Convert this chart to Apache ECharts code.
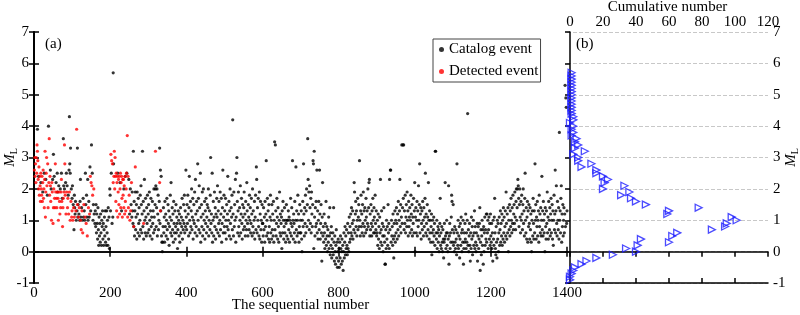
<!DOCTYPE html>
<html>
<head>
<meta charset="utf-8">
<script src="https://cdn.jsdelivr.net/npm/echarts@6/dist/echarts.min.js"></script>
<style>
  html, body { margin: 0; padding: 0; background: #fff; }
  #main { width: 800px; height: 315px; }
</style>
</head>
<body>
<div id="main"></div>
<script>
// detected events (red): [sequential number, ML]
var detected = [
  [1,2.6],[2,3.0],[3,2.4],[4,2.8],[5,2.2],[6,3.0],[7,2.5],[8,3.4],[9,3.2],[10,2.9],[11,2.3],[12,2.0],[13,2.7],[14,1.8],
  [15,2.4],[16,2.1],[17,1.6],[18,2.5],[19,2.0],[20,1.8],[21,2.4],[22,1.6],[23,2.2],[24,2.6],[25,1.7],[26,2.0],[27,1.4],
  [28,2.3],[29,3.2],[30,1.1],[31,1.9],[32,2.5],[33,3.0],[34,2.1],[36,2.8],[37,1.4],[39,2.2],[40,3.6],[41,1.8],[42,2.4],
  [43,2.1],[44,1.6],[46,1.0],[47,2.2],[48,1.9],[50,0.9],[51,1.4],[52,2.0],[54,1.7],[55,1.4],[56,2.8],[57,1.9],[59,1.7],
  [60,1.4],[61,1.9],[63,1.7],[64,1.0],[66,1.9],[67,1.6],[68,1.2],[70,1.4],[71,1.9],[72,2.3],[73,1.6],[75,0.8],[76,1.4],
  [77,1.7],[79,1.9],[80,3.4],[81,2.8],[82,1.8],[84,1.2],[86,1.9],[88,1.4],[89,1.7],[91,1.2],[93,1.9],[95,1.0],[97,1.6],
  [99,1.1],[100,1.3],[102,1.0],[104,1.4],[106,1.1],[110,1.3],[112,3.9],[114,1.5],[117,1.1],[119,1.4],[122,1.0],[124,0.7],
  [126,1.3],[128,0.6],[131,1.5],[134,1.1],[137,0.9],[140,0.5],[143,1.4],[146,1.2],[148,2.4],[150,2.2],[152,2.1],[154,1.8],
  [157,2.0],[202,3.1],[204,2.9],[206,2.8],[208,2.2],[210,2.4],[211,3.2],[212,2.0],[213,3.0],[214,2.4],[215,1.6],[216,2.5],
  [217,1.3],[218,2.2],[219,2.4],[220,1.1],[221,1.9],[222,2.3],[223,1.5],[224,2.4],[225,1.2],[226,2.0],[227,2.5],[228,1.4],
  [229,2.2],[230,2.4],[231,1.7],[232,1.1],[233,2.3],[234,1.8],[235,2.3],[236,1.4],[237,2.1],[238,1.2],[239,2.4],[240,1.6],
  [241,1.3],[242,2.0],[243,2.5],[245,3.7],[246,1.1],[247,2.4],[248,1.4],[250,1.8],[252,1.0],[254,1.3],[256,2.2],[262,0.8],
  [266,2.7],[288,0.9],[319,3.2],[330,2.2],[332,1.3]
];

// catalog events (black) among the first 260: [sequential number, ML]
var catalogEarly = [
  [9,3.9],[12,2.4],[18,2.2],[23,1.9],[27,2.5],[31,2.3],[35,1.8],[38,4.0],[43,2.6],[45,2.0],[49,2.3],[51,3.1],[53,2.4],
  [58,2.2],[61,2.5],[62,1.9],[65,2.1],[69,2.0],[72,2.5],[74,1.7],[77,3.6],[78,2.1],[80,2.0],[83,2.2],[85,2.5],[87,2.1],
  [90,1.8],[92,2.6],[93,4.3],[94,2.8],[95,2.5],[96,3.3],[98,2.0],[100,1.7],[101,2.1],[103,1.5],[105,0.7],[106,1.8],
  [107,1.4],[108,1.2],[109,1.6],[111,1.0],[113,1.3],[114,3.3],[115,1.1],[116,1.5],[118,1.2],[120,1.0],[121,1.6],[122,2.3],
  [123,1.1],[125,1.4],[127,1.0],[129,1.7],[130,1.1],[132,1.3],[133,1.0],[135,2.5],[136,1.5],[138,1.8],[139,1.1],[141,2.3],
  [142,1.0],[144,1.6],[145,1.1],[147,2.7],[149,1.3],[151,3.4],[153,2.5],[155,1.0],[156,1.5],[158,1.2],[160,0.9],[161,1.3],
  [162,0.8],[163,1.5],[164,0.6],[165,1.2],[166,0.9],[167,0.4],[168,1.4],[169,0.7],[170,0.2],[171,1.1],[172,0.5],[173,0.9],
  [174,0.3],[175,1.2],[176,0.6],[177,0.2],[178,1.0],[179,0.8],[180,1.3],[181,0.4],[182,0.9],[183,0.2],[184,0.7],[185,1.1],
  [186,0.5],[187,1.3],[188,0.3],[189,0.8],[190,0.2],[191,1.3],[192,0.6],[193,1.0],[194,0.2],[195,1.4],[196,0.4],[197,1.1],
  [198,0.1],[199,2.0],[200,1.8],[201,1.3],[203,2.5],[205,0.9],[207,1.1],[208,5.7],[209,2.8],[220,2.5],[226,2.2],[230,1.3],
  [236,2.0],[240,2.4],[244,2.5],[249,2.3],[251,1.2],[253,2.0],[255,1.5],[257,1.1],[258,1.9],[259,1.3],[260,0.9]
];

// catalog ML in sequence, starting at number 261
var cat261 = [
  3.2,0.8,1.6,0.5,1.3,1.9,0.7,1.1,1.5,0.4, 1.9,1.2,0.6,1.7,0.9,1.4,0.5,1.0,1.8,0.7,
  2.1,1.5,0.6,1.2,3.2,0.8,1.6,0.4,1.3,2.3, 1.0,0.6,1.7,1.1,0.5,1.4,0.9,1.8,0.6,1.2
];
var cat301 = [
  1.5,0.7,1.9,1.0,0.5,1.3,1.7,0.8,1.1,0.4, 1.6,0.9,1.3,0.6,2.0,1.1,0.7,1.5,2.0,2.1,
  0.8,1.4,2.0,0.5,1.2,1.8,0.7,1.0,1.6,3.3, 0.9,2.6,1.3,2.4,0.5,0.3,0.0,0.3,0.8,1.4,
  0.6,1.1,0.3,1.6,0.8,1.2,0.5,1.0,1.7,0.7, 0.4,1.5,0.9,1.3,0.2,0.8,1.1,1.8,0.6,2.2,
  1.0,0.5,1.4,0.7,1.2,0.3,1.6,0.9,0.6,1.3, 0.4,0.8,1.5,0.6,1.1,0.9,0.1,0.7,1.3,1.0,
  0.5,1.2,0.3,0.9,1.4,0.6,1.1,0.8,1.7,0.4, 1.0,0.7,1.5,0.9,1.8,0.6,1.3,0.8,2.6,1.1
];
var cat401 = [
  0.7,1.5,0.9,1.8,1.2,0.5,1.4,2.4,1.0,0.6, 1.6,0.8,1.3,2.0,0.7,1.1,1.7,0.4,1.0,1.5,
  0.9,1.9,0.6,2.3,1.2,0.8,1.6,0.5,1.3,2.8, 1.0,1.7,0.7,2.1,1.4,0.6,2.5,0.3,1.1,1.5,
  0.8,1.9,0.5,1.2,2.0,0.7,1.0,1.6,0.4,1.3, 0.9,1.7,0.6,1.1,1.5,0.8,1.4,2.0,0.5,1.0,
  1.3,0.7,1.8,3.0,0.9,1.2,0.6,2.5,0.3,1.0, 1.6,0.5,1.1,1.9,0.8,1.4,0.4,1.2,0.7,1.7,
  1.1,2.1,0.6,1.3,0.9,1.6,0.5,1.0,1.9,0.7, 1.2,1.7,0.3,0.9,1.4,2.6,0.6,1.1,1.8,0.8
];
var cat501 = [
  1.3,0.6,1.7,1.0,0.4,1.5,0.8,1.2,2.4,0.7, 1.0,1.6,0.5,1.3,2.0,0.9,0.4,1.4,1.1,1.8,
  0.7,4.2,1.2,0.5,1.9,0.8,1.5,1.0,2.3,0.3, 1.1,2.5,3.0,1.6,0.6,1.3,1.9,0.8,0.5,1.4,
  1.0,2.1,0.6,1.2,1.7,0.9,0.4,1.5,1.1,0.7, 1.4,1.9,0.8,1.2,0.5,1.6,1.0,0.7,2.2,1.3,
  0.9,0.5,1.5,1.1,0.7,1.8,1.0,1.4,0.6,0.9, 1.7,1.2,0.5,2.0,0.8,1.3,0.6,1.0,1.6,0.4,
  1.1,1.8,0.7,2.7,2.3,0.6,1.4,1.0,1.7,0.8, 0.5,1.9,0.4,1.2,1.6,0.7,1.0,0.3,1.5,0.9
];
var cat601 = [
  0.9,0.5,1.4,0.7,1.1,0.3,1.6,0.8,1.2,2.9, 0.5,1.0,1.7,0.6,1.3,0.4,1.5,0.8,0.3,1.1,
  1.8,0.6,1.0,0.4,1.5,0.7,1.2,0.5,1.6,0.3, 1.0,3.5,0.7,3.4,1.3,0.5,0.9,1.7,1.1,0.4,
  1.4,0.8,0.3,1.0,1.9,0.6,1.2,0.5,0.9,1.1, 0.1,1.3,0.6,1.6,1.0,0.4,0.8,1.4,0.6,1.0,
  0.3,0.9,1.5,0.5,1.0,1.0,0.4,1.3,0.7,1.1, 0.3,1.0,0.6,1.7,0.9,0.5,1.4,0.8,2.9,1.0,
  0.4,1.2,0.9,0.6,1.6,0.3,1.0,2.7,0.7,1.3, 0.5,1.0,1.8,0.6,1.2,0.3,0.8,1.5,0.6,1.0
];
var cat701 = [
  0.6,1.3,0.4,0.0,1.0,1.6,0.8,2.8,1.2,0.5, 1.4,0.9,1.8,0.6,1.3,2.0,0.8,1.5,3.6,2.3,
  1.0,1.9,0.7,2.1,1.4,0.9,1.7,0.6,1.9,1.2, 0.8,1.5,2.9,2.8,0.1,3.2,1.1,0.5,1.4,0.8,
  1.6,0.9,2.6,0.6,1.3,0.4,1.0,1.6,0.7,2.6, 1.2,0.4,0.9,1.5,0.6,-0.3,1.1,2.2,0.5,0.8,
  0.3,1.2,0.6,0.1,0.9,0.4,1.6,0.2,0.8,0.5, 0.0,0.7,0.3,1.1,0.1,0.5,1.4,-0.1,0.6,0.2,
  0.8,-0.2,0.4,0.1,0.6,-0.1,1.4,0.3,-0.3,0.5, 0.0,-0.4,0.2,0.7,-0.2,0.3,-0.5,0.0,0.4,-0.3
];
var cat801 = [
  0.1,-0.5,0.3,-0.2,0.5,0.1,-0.4,0.0,0.4,-0.3, 0.2,-0.6,0.0,0.6,-0.2,0.3,0.8,-0.1,0.5,0.1,
  0.7,0.2,-0.1,0.9,0.1,0.6,0.0,1.1,0.3,0.8, 0.4,1.2,0.6,1.4,0.5,0.9,1.3,0.4,1.0,0.7,
  2.2,1.9,0.6,1.2,1.6,0.8,1.3,0.5,1.0,1.7, 0.7,1.1,1.5,0.8,2.9,1.0,0.5,1.3,1.8,0.8,
  1.2,0.6,1.5,0.9,1.9,0.5,1.3,0.8,1.4,1.0, 0.6,1.7,1.1,0.7,1.3,0.9,2.0,0.8,1.4,2.2,
  2.3,0.5,1.2,0.7,1.5,0.9,0.5,1.3,0.8,1.7, 1.0,0.6,1.4,1.1,0.6,1.8,0.9,0.7,1.3,0.5
];
var cat901 = [
  0.6,1.0,0.2,1.2,0.4,0.8,0.1,1.1,0.6,2.3, 0.3,0.7,1.3,0.2,0.9,0.5,0.0,0.8,1.4,0.5,
  0.3,-0.4,-0.4,0.7,0.1,1.0,0.4,0.8,0.2,1.5, 0.6,0.9,0.1,2.3,0.7,2.6,2.6,0.3,1.0,0.5,
  0.8,0.2,1.2,0.4,-0.2,0.9,0.5,1.3,0.3,1.0, 0.6,1.4,0.9,0.4,1.2,0.7,1.6,0.5,1.0,1.3,
  2.3,0.8,1.5,0.6,1.1,3.4,0.9,1.4,3.4,1.7, 3.4,0.7,1.3,0.9,1.8,0.6,1.1,1.5,0.8,1.9,
  1.0,1.3,0.5,1.6,0.8,1.1,1.4,0.6,1.0,1.8, 1.2,0.7,1.5,0.5,1.1,0.9,1.7,0.6,1.3,2.2
];
var cat1001 = [
  0.0,1.1,1.4,0.6,1.0,1.6,0.5,1.3,0.8,2.1, 1.0,1.5,2.8,0.6,1.2,1.4,0.4,0.9,1.3,0.7,
  1.6,1.0,0.5,1.4,0.8,1.1,1.7,2.5,0.6,1.2, 0.9,0.5,1.5,1.1,0.7,2.2,1.0,0.4,1.3,0.6,
  1.0,0.3,0.8,1.2,-0.1,0.6,1.0,0.3,0.7,1.1, 0.5,0.9,0.2,3.2,3.2,0.6,0.4,1.0,0.1,0.6,
  0.8,0.3,0.7,0.0,0.5,0.9,1.7,0.2,0.6,0.1, 0.8,0.3,0.0,0.7,0.4,-0.2,0.3,0.9,0.4,2.2,
  0.5,0.1,0.6,1.0,0.2,0.6,0.0,0.4,2.1,-0.4, 0.5,0.9,0.1,0.6,0.3,1.1,1.8,1.6,0.7,0.3
];
var cat1101 = [
  1.5,0.2,0.6,0.0,0.8,0.3,0.1,0.7,0.4,-0.1, 2.8,0.6,0.2,1.0,0.1,0.5,0.8,-0.2,0.4,0.9,
  0.2,1.1,0.6,0.0,0.7,0.3,1.0,-0.4,0.1,0.6, 0.3,0.9,0.4,1.2,0.1,0.6,0.3,1.0,4.4,0.2,
  0.7,0.0,0.5,0.9,0.2,-0.3,0.6,0.1,1.1,0.4, 0.8,-0.1,0.5,1.0,0.2,0.6,1.3,0.1,0.8,0.3,
  0.0,0.6,0.2,0.9,-0.3,0.5,0.8,0.1,0.4,0.9, 1.4,-0.6,0.3,0.7,-0.1,0.5,1.0,0.2,0.7,-0.4,
  0.8,0.0,0.6,1.1,0.2,0.7,0.4,1.2,0.3,1.2, 0.6,1.0,0.1,0.7,1.1,0.4,0.9,0.2,1.2,0.5
];
var cat1201 = [
  0.3,0.9,0.1,0.6,-0.3,1.0,0.4,0.2,1.1,1.7, 0.6,0.1,-0.1,0.8,0.3,-0.2,1.0,0.4,0.9,0.0,
  0.6,1.1,0.2,0.7,1.3,0.3,0.9,0.5,1.2,0.2, 1.0,0.4,1.4,0.6,1.1,0.3,0.8,1.3,0.5,1.9,
  0.9,0.4,1.2,0.6,1.4,0.0,1.0,0.7,1.5,0.5, 1.3,0.8,1.7,1.0,0.6,1.4,0.9,1.8,0.7,1.2,
  1.5,0.9,1.9,1.1,0.7,1.6,2.0,1.0,1.4,2.0, 2.3,2.1,1.7,0.8,1.5,2.0,1.1,0.6,1.6,1.0,
  1.8,1.2,0.7,1.5,2.0,0.9,1.3,0.5,1.7,2.5, 1.0,0.6,1.4,0.4,1.1,1.6,0.3,1.3,0.8,1.5
];
var cat1301 = [
  0.9,0.4,1.4,0.7,1.2,0.3,0.0,1.0,1.3,0.5, 1.7,0.9,0.4,1.3,0.6,2.8,1.0,1.5,0.4,1.1,
  0.8,1.6,0.5,1.0,1.3,0.3,1.8,0.8,1.2,0.6, 1.4,0.5,1.0,2.4,0.7,1.3,0.5,1.6,1.0,0.6,
  1.2,0.0,1.4,0.8,0.4,1.3,0.9,1.9,0.6,1.1, 0.4,1.6,1.0,0.7,1.4,0.5,1.2,1.7,0.6,1.0,
  1.5,0.4,1.3,0.2,1.0,1.8,0.7,1.2,2.6,0.6, 1.3,2.1,0.9,0.5,1.6,1.0,0.7,1.4,0.4,3.8,
  1.0,1.3,0.6,1.7,2.1,0.3,1.2,0.8,1.5,0.5, 1.0,1.4,0.6,1.2,5.3,0.8,4.9,4.6,0.9,1.3
];

// panel (b): ML bins and cumulative number
var mlLevels = [
  -0.9,-0.8,-0.7,-0.6,-0.5,-0.4,-0.3,-0.2,-0.1,0.0,0.1,0.2,0.3,0.4,0.5,0.6,0.7,0.8,0.9,1.0,
  1.1,1.2,1.3,1.4,1.5,1.6,1.7,1.8,1.9,2.0,2.1,2.2,2.3,2.4,2.5,2.6,2.7,2.8,2.9,3.0,
  3.1,3.2,3.3,3.4,3.5,3.6,3.7,3.8,3.9,4.0,4.1,4.2,4.3,4.4,4.5,4.6,4.7,4.8,4.9,5.0,
  5.1,5.2,5.3,5.4,5.5,5.6,5.7
];
var cumNumber = [
  0,0,1,2,3,7,10,16,26,40,34,41,60,43,62,65,86,94,95,101,
  98,59,60,78,46,40,37,31,36,20,33,21,23,20,16,16,7,13,5,5,
  2,9,3,5,3,4,1,2,1,2,0,2,2,1,1,1,1,1,1,1,
  1,1,1,1,1,1,1
];

var font = 'Liberation Serif';
var catalogSeq = cat261.concat(cat301, cat401, cat501, cat601, cat701, cat801, cat901,
                               cat1001, cat1101, cat1201, cat1301);
var catalogData = catalogEarly.slice();
for (var i = 0; i < catalogSeq.length; i++) {
    catalogData.push([261 + i, catalogSeq[i]]);
}
var cumData = [];
for (var j = 0; j < mlLevels.length; j++) {
    cumData.push([cumNumber[j], mlLevels[j]]);
}

var lineStyle = {color: '#000', width: 1.5};
var labelStyle = {fontFamily: font, fontSize: 15, color: '#000'};
var plain = function (v) { return String(v); };
var mlName = {
    rich: {
        i: {fontFamily: font, fontSize: 15, fontStyle: 'italic', color: '#000'},
        s: {fontFamily: font, fontSize: 10, color: '#000', padding: [7, 0, 0, 0]}
    }
};

var myChart = echarts.init(document.getElementById('main'));
var option = {
    animation: false,
    backgroundColor: '#fff',
    grid: [
        {left: 34, top: 32, width: 533, height: 251, outerBoundsMode: 'none', containLabel: false},
        {left: 567, top: 32, width: 201, height: 251, outerBoundsMode: 'none', containLabel: false}
    ],
    legend: {
        data: ['Catalog event', 'Detected event'],
        orient: 'vertical',
        left: 433,
        top: 39,
        padding: [3, 2, 3, 6],
        itemGap: 7,
        itemWidth: 5,
        itemHeight: 5,
        icon: 'circle',
        borderColor: '#444',
        borderWidth: 1,
        textStyle: {fontFamily: font, fontSize: 15, color: '#000'}
    },
    graphic: [
        {type: 'text', left: 45, top: 37, style: {text: '(a)', font: '15px "Liberation Serif"', fill: '#000'}},
        {type: 'text', left: 576, top: 37, style: {text: '(b)', font: '15px "Liberation Serif"', fill: '#000'}}
    ],
    xAxis: [
        {
            gridIndex: 0, type: 'value', position: 'bottom',
            min: 0, max: 1400, interval: 200,
            name: 'The sequential number', nameLocation: 'middle', nameGap: 15, nameMoveOverlap: false,
            nameTextStyle: labelStyle,
            axisLine: {lineStyle: lineStyle},
            axisTick: {inside: true, length: 5, lineStyle: lineStyle},
            axisLabel: {margin: 3, fontFamily: font, fontSize: 15, color: '#000', formatter: plain},
            splitLine: {show: false}
        },
        {
            gridIndex: 0, type: 'value', position: 'top',
            min: 0, max: 1400, interval: 200,
            axisLine: {lineStyle: lineStyle},
            axisTick: {inside: true, length: 5, lineStyle: lineStyle},
            axisLabel: {show: false},
            splitLine: {show: false}
        },
        {
            gridIndex: 1, type: 'value', position: 'top',
            min: -1.8, max: 120,
            name: 'Cumulative number', nameLocation: 'middle', nameGap: 17, nameMoveOverlap: false,
            nameTextStyle: labelStyle,
            axisLine: {lineStyle: lineStyle},
            axisTick: {inside: true, length: 5, lineStyle: lineStyle,
                       customValues: [0, 20, 40, 60, 80, 100, 120]},
            axisLabel: {margin: 2, fontFamily: font, fontSize: 15, color: '#000', formatter: plain,
                        customValues: [0, 20, 40, 60, 80, 100, 120]},
            splitLine: {show: false}
        },
        {
            gridIndex: 1, type: 'value', position: 'bottom',
            min: -1.8, max: 120,
            axisLine: {lineStyle: lineStyle},
            axisTick: {inside: true, length: 5, lineStyle: lineStyle,
                       customValues: [20, 40, 60, 80, 100]},
            axisLabel: {show: false},
            splitLine: {show: false}
        }
    ],
    yAxis: [
        {
            gridIndex: 0, type: 'value', position: 'left',
            min: -1, max: 7, interval: 1,
            name: '{i|M}{s|L}', nameLocation: 'middle', nameGap: 15, nameRotate: 90, nameMoveOverlap: false,
            nameTextStyle: mlName,
            axisLine: {lineStyle: lineStyle},
            axisTick: {inside: true, length: 5, lineStyle: lineStyle},
            axisLabel: {margin: 5, fontFamily: font, fontSize: 15, color: '#000'},
            splitLine: {show: false}
        },
        {
            gridIndex: 0, type: 'value', position: 'right',
            min: -1, max: 7, interval: 1,
            axisLine: {lineStyle: {color: '#000', width: 2}},
            axisTick: {inside: true, length: 5, lineStyle: lineStyle},
            axisLabel: {show: false},
            splitLine: {show: false}
        },
        {
            gridIndex: 1, type: 'value', position: 'right',
            min: -1, max: 7, interval: 1,
            name: '{i|M}{s|L}', nameLocation: 'middle', nameGap: 15, nameRotate: 90, nameMoveOverlap: false,
            nameTextStyle: mlName,
            axisLine: {lineStyle: lineStyle},
            axisTick: {inside: true, length: 5, lineStyle: lineStyle},
            axisLabel: {margin: 5, fontFamily: font, fontSize: 15, color: '#000'},
            splitLine: {show: true, lineStyle: {color: '#c8c8c8', type: 'dashed', width: 1}}
        }
    ],
    series: [
        {
            name: 'Catalog event',
            type: 'scatter',
            xAxisIndex: 0, yAxisIndex: 0,
            symbol: 'circle', symbolSize: 3.2,
            itemStyle: {color: '#000'},
            data: catalogData,
            z: 2
        },
        {
            name: 'Detected event',
            type: 'scatter',
            xAxisIndex: 0, yAxisIndex: 0,
            symbol: 'circle', symbolSize: 3.2,
            itemStyle: {color: '#ff0000'},
            data: detected,
            z: 3
        },
        {
            name: 'Cumulative',
            type: 'scatter',
            xAxisIndex: 2, yAxisIndex: 2,
            symbol: 'triangle', symbolRotate: -90, symbolSize: 7,
            itemStyle: {color: 'rgba(0,0,0,0)', borderColor: '#1e1eff', borderWidth: 1.3},
            data: cumData,
            z: 3
        }
    ]
};
myChart.setOption(option);
</script>
</body>
</html>
